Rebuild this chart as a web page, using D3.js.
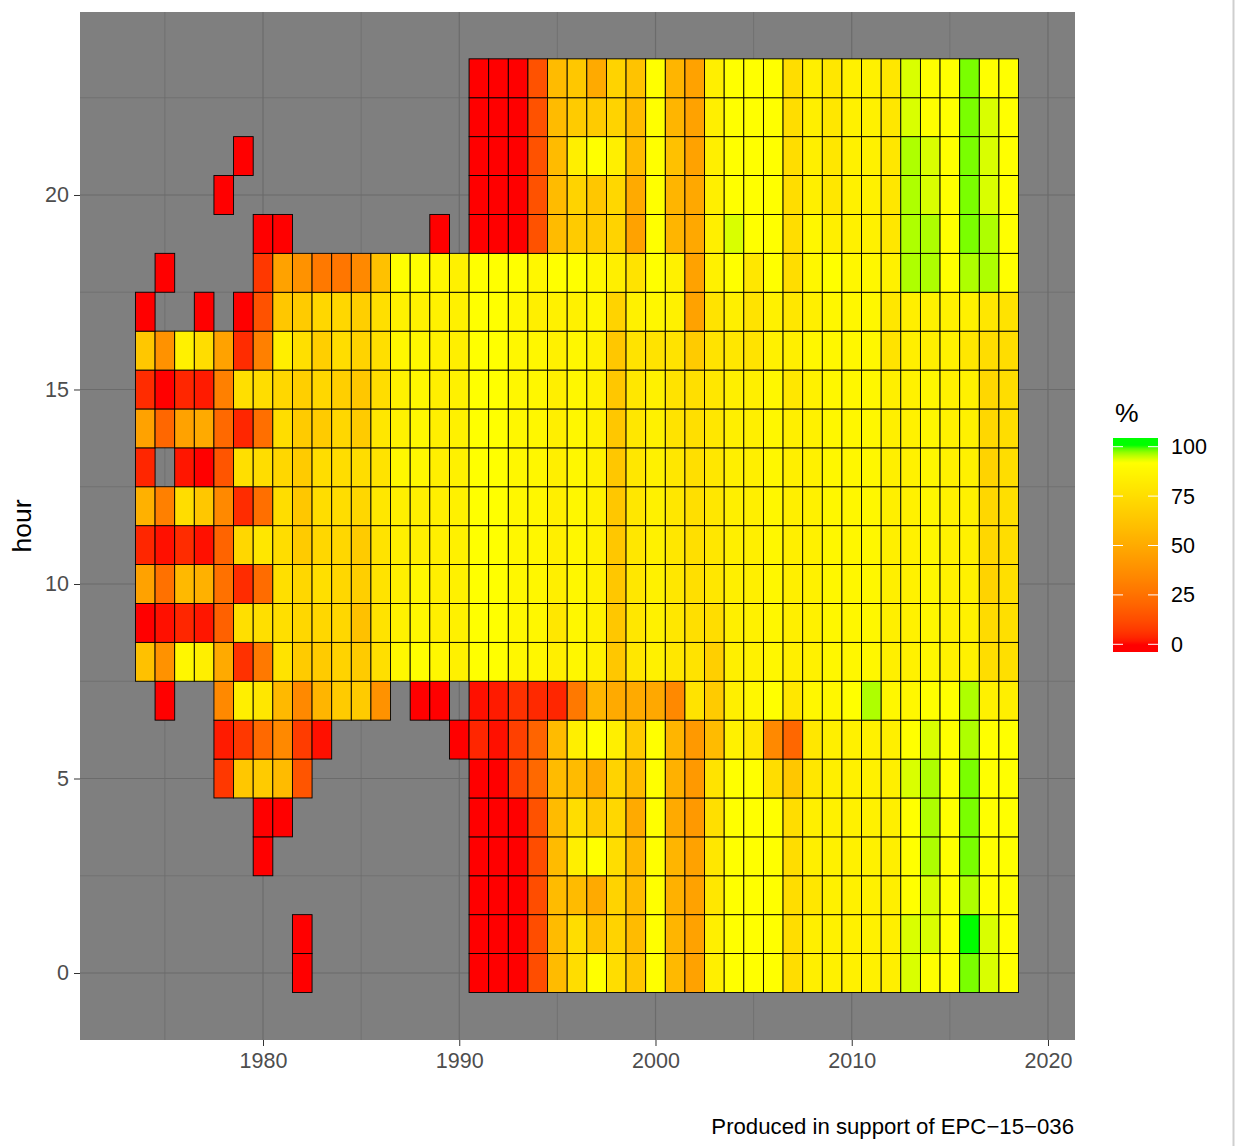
<!DOCTYPE html>
<html>
<head>
<meta charset="utf-8">
<script src="https://cdn.jsdelivr.net/npm/d3@7"></script>
<style>
  body { margin: 0; background: #fff; }
  svg text { font-family: "Liberation Sans", Arial, sans-serif; }
</style>
</head>
<body>
<div id="chart"></div>
<script>
const _ = null;

// years on the x axis (one column per year)
const years = [1974, 1975, 1976, 1977, 1978, 1979, 1980, 1981, 1982, 1983, 1984, 1985, 1986, 1987, 1988, 1989, 1990,
  1991, 1992, 1993, 1994, 1995, 1996, 1997, 1998, 1999, 2000, 2001, 2002, 2003, 2004, 2005, 2006, 2007, 2008,
  2009, 2010, 2011, 2012, 2013, 2014, 2015, 2016, 2017, 2018];

// percent per hour, one value per year above (null = no data)
//          1974 ............................................ 1990 | 1991 ..................................................................................... 2018
const h00 = [_,_,_,_,_,_,_,_,0,_,_,_,_,_,_,_,_, 0,0,0,12.5,58,75,92,75,64,92,57,46,84,92,92,92,75,84,85,85,85,84,94,92,92,98,94,92];
const h01 = [_,_,_,_,_,_,_,_,0,_,_,_,_,_,_,_,_, 0,0,0,12.5,58,75,62,70,58,92,55,46,84,92,92,92,75,84,85,85,85,84,94,94,92,100,94,92];
const h02 = [_,_,_,_,_,_,_,_,_,_,_,_,_,_,_,_,_, 0,0,0,12.5,58,58,50,70,58,92,53,46,80,92,92,92,75,80,85,85,85,84,92,94,92,96,92,92];
const h03 = [_,_,_,_,_,_,0,_,_,_,_,_,_,_,_,_,_, 0,0,0,12.5,58,84,92,75,57,92,55,46,80,92,92,92,75,84,85,85,85,84,92,96,92,98,92,92];
const h04 = [_,_,_,_,_,_,0,0,_,_,_,_,_,_,_,_,_, 0,0,0,14,58,75,66,72,50,92,50,42,76,92,92,92,75,84,85,85,85,84,92,96,92,98,92,92];
const h05 = [_,_,_,_,7,64,66,58,15,_,_,_,_,_,_,_,_, 0,0,10,22,58,58,50,70,58,92,53,42,78,92,92,75,64,80,84,85,85,84,94,96,92,98,92,92];
const h06 = [_,_,_,_,2,7,22,35,8,1,_,_,_,_,_,_,0, 3.5,1,9,20,58,84,92,84,66,92,55,42,58,85,80,35,21,80,84,85,85,84,92,94,92,96,92,92];
const h07 = [_,0,_,_,35,84,80,57,35,55,66,66,39,_,0,0,_, 1,2,5.5,4,3.5,28,55,50,50,49,35,78,66,84,88,92,80,88,88,92,96,88,88,92,92,96,85,84];
const h08 = [61,39,88,84,50,5.5,28,78,66,66,70,66,76,88,92,88,85, 92,92,88,88,84,88,85,64,80,85,80,78,68,84,85,88,84,85,88,88,88,84,85,88,85,85,75,76];
const h09 = [0,1,3.5,1.5,19,76,76,76,72,72,72,61,78,85,88,84,85, 92,92,88,88,80,88,85,64,80,85,80,76,75,84,85,88,84,85,88,88,88,84,85,88,85,85,74,76];
const h10 = [46,25,57,53,25,4.5,23,76,72,76,72,68,78,84,88,84,85, 92,92,88,88,84,88,85,64,80,85,80,76,80,84,84,88,84,85,88,88,88,84,85,88,85,85,70,76];
const h11 = [3.5,1,4.5,1,20,72,80,75,66,72,72,66,78,84,84,84,85, 92,92,88,88,84,88,85,64,80,85,80,76,80,84,84,88,84,85,88,88,88,84,85,88,85,85,72,75];
const h12 = [53,31,75,64,35,4.5,24,75,64,75,75,72,80,84,84,84,85, 92,92,88,88,84,88,85,64,80,85,80,76,80,84,84,88,84,85,88,88,88,84,85,88,85,85,72,76];
const h13 = [3.5,_,1.5,0,15,76,75,72,66,75,75,75,78,88,88,84,85, 92,92,88,88,84,88,85,64,80,85,80,76,80,84,84,88,84,85,88,88,88,84,85,88,85,85,70,75];
const h14 = [46,21,46,50,22,3.5,24,75,66,66,72,66,80,85,88,84,85, 92,92,88,88,84,88,85,64,80,85,78,76,80,84,84,88,84,85,88,88,88,84,85,88,85,85,72,75];
const h15 = [4.5,0,3.5,2,31,76,75,72,68,72,68,64,75,85,88,84,85, 92,92,88,88,84,88,85,64,80,85,78,76,80,84,84,88,80,85,88,88,88,84,85,88,85,85,72,75];
const h16 = [64,39,85,75,46,4.5,31,84,76,68,75,70,76,88,88,85,84, 92,92,88,88,85,88,85,64,78,78,78,66,78,80,78,85,84,88,88,88,88,78,84,84,85,80,75,75];
const h17 = [0,_,_,0,_,0,14,64,66,72,72,68,76,85,85,85,85, 92,92,88,84,85,85,88,70,85,88,85,46,78,84,78,85,80,84,88,88,88,80,84,85,85,85,80,78];
const h18 = [_,0,_,_,_,_,7,46,39,28,27,35,61,92,92,88,85, 92,92,92,88,92,92,88,84,78,92,85,46,85,92,80,92,75,88,92,88,88,85,96,96,92,96,96,92];
const h19 = [_,_,_,_,_,_,0,0,_,_,_,_,_,_,_,0,_, 0,0,0,14,58,66,66,70,46,92,55,49,84,94,92,92,75,88,84,85,85,80,96,96,92,98,96,92];
const h20 = [_,_,_,_,0,_,_,_,_,_,_,_,_,_,_,_,_, 0,0,0,14,58,70,64,72,50,92,55,49,84,92,92,92,75,84,80,85,85,80,96,94,92,98,94,92];
const h21 = [_,_,_,_,_,0,_,_,_,_,_,_,_,_,_,_,_, 0,0,0,14,58,84,92,84,58,92,61,46,84,92,92,92,75,84,80,85,85,80,96,94,92,98,94,92];
const h22 = [_,_,_,_,_,_,_,_,_,_,_,_,_,_,_,_,_, 0,0,0,14,58,66,66,70,58,92,55,46,84,92,92,92,75,84,80,85,85,80,94,92,92,98,94,92];
const h23 = [_,_,_,_,_,_,_,_,_,_,_,_,_,_,_,_,_, 0,0,0,14,58,64,50,70,62,92,55,46,84,92,92,92,75,84,80,85,85,80,94,92,92,98,92,92];

const hourRows = [h00, h01, h02, h03, h04, h05, h06, h07, h08, h09, h10, h11,
                  h12, h13, h14, h15, h16, h17, h18, h19, h20, h21, h22, h23];

const xTicks = [1980, 1990, 2000, 2010, 2020];
const xMinor = [1975, 1985, 1995, 2005, 2015];
const yTicks = [0, 5, 10, 15, 20];
const yMinor = [2.5, 7.5, 12.5, 17.5, 22.5];
const legendTicks = [0, 25, 50, 75, 100];

// flatten into tiles
const tiles = [];
hourRows.forEach(function (row, hour) {
  row.forEach(function (v, i) {
    if (v !== null) tiles.push({year: years[i], hour: hour, value: v});
  });
});

const width = 1236, height = 1146;
const panel = {left: 80, top: 12, right: 1075, bottom: 1040};

const svg = d3.select("#chart").append("svg")
  .attr("width", width)
  .attr("height", height);

const x = d3.scaleLinear().domain([1970.675, 2021.376]).range([panel.left, panel.right]);
const y = d3.scaleLinear().domain([-1.722, 24.704]).range([panel.bottom, panel.top]);

const color = d3.scaleLinear()
  .domain([0, 92, 100])
  .range(["#ff0000", "#ffff00", "#00ff00"])
  .interpolate(d3.interpolateLab)
  .clamp(true);

// panel background
svg.append("rect")
  .attr("x", panel.left).attr("y", panel.top)
  .attr("width", panel.right - panel.left)
  .attr("height", panel.bottom - panel.top)
  .attr("fill", "#7f7f7f");

// grid
const grid = svg.append("g");
grid.selectAll(".vminor").data(xMinor).join("line")
  .attr("x1", d => x(d)).attr("x2", d => x(d))
  .attr("y1", panel.top).attr("y2", panel.bottom)
  .attr("stroke", "#6b6b6b").attr("stroke-width", 0.7);
grid.selectAll(".hminor").data(yMinor).join("line")
  .attr("y1", d => y(d)).attr("y2", d => y(d))
  .attr("x1", panel.left).attr("x2", panel.right)
  .attr("stroke", "#6b6b6b").attr("stroke-width", 0.7);
grid.selectAll(".vmajor").data(xTicks).join("line")
  .attr("x1", d => x(d)).attr("x2", d => x(d))
  .attr("y1", panel.top).attr("y2", panel.bottom)
  .attr("stroke", "#6b6b6b").attr("stroke-width", 1.2);
grid.selectAll(".hmajor").data(yTicks).join("line")
  .attr("y1", d => y(d)).attr("y2", d => y(d))
  .attr("x1", panel.left).attr("x2", panel.right)
  .attr("stroke", "#6b6b6b").attr("stroke-width", 1.2);

// tiles
svg.append("g")
  .selectAll("rect")
  .data(tiles)
  .join("rect")
    .attr("x", d => x(d.year - 0.5))
    .attr("width", d => x(d.year + 0.5) - x(d.year - 0.5))
    .attr("y", d => y(d.hour + 0.5))
    .attr("height", d => y(d.hour - 0.5) - y(d.hour + 0.5))
    .attr("fill", d => color(d.value))
    .attr("stroke", "#000")
    .attr("stroke-width", 0.9);

// axes
const xAxis = svg.append("g")
  .attr("transform", "translate(0," + panel.bottom + ")")
  .call(d3.axisBottom(x).tickValues(xTicks).tickFormat(d3.format("d")).tickSize(6).tickPadding(7));
const yAxis = svg.append("g")
  .attr("transform", "translate(" + panel.left + ",0)")
  .call(d3.axisLeft(y).tickValues(yTicks).tickSize(6).tickPadding(5));

[xAxis, yAxis].forEach(function (g) {
  g.select(".domain").remove();
  g.selectAll(".tick line").attr("stroke", "#333").attr("stroke-width", 1);
  g.selectAll(".tick text")
    .attr("fill", "#4d4d4d")
    .style("font-size", "21.5px")
    .style("font-family", "'Liberation Sans', Arial, sans-serif");
});

// y title
svg.append("text")
  .attr("transform", "translate(31," + ((panel.top + panel.bottom) / 2) + ") rotate(-90)")
  .attr("text-anchor", "middle")
  .style("font-size", "26.5px")
  .attr("fill", "#000")
  .text("hour");

// caption
svg.append("text")
  .attr("x", 1074).attr("y", 1134)
  .attr("text-anchor", "end")
  .style("font-size", "22.2px")
  .attr("fill", "#000")
  .text("Produced in support of EPC\u221215\u2212036");

// legend
const legendY = d3.scaleLinear().domain([0, 100]).range([644.3, 446.7]);
const barTop = 438, barBottom = 652, barLeft = 1113, barW = 45;

const defs = svg.append("defs");
const grad = defs.append("linearGradient")
  .attr("id", "legend-grad")
  .attr("gradientUnits", "userSpaceOnUse")
  .attr("x1", 0).attr("x2", 0)
  .attr("y1", barBottom).attr("y2", barTop);
const stopVals = d3.range(0, 61).map(i => legendY.invert(barBottom + (barTop - barBottom) * i / 60));
grad.selectAll("stop").data(stopVals).join("stop")
  .attr("offset", (d, i) => i / 60)
  .attr("stop-color", d => color(d));

svg.append("rect")
  .attr("x", barLeft).attr("y", barTop)
  .attr("width", barW).attr("height", barBottom - barTop)
  .attr("fill", "url(#legend-grad)");

const lt = svg.append("g");
lt.selectAll(".lt-l").data(legendTicks).join("line")
  .attr("x1", barLeft).attr("x2", barLeft + 10)
  .attr("y1", d => legendY(d)).attr("y2", d => legendY(d))
  .attr("stroke", "#fff").attr("stroke-width", 1);
lt.selectAll(".lt-r").data(legendTicks).join("line")
  .attr("x1", barLeft + barW - 10).attr("x2", barLeft + barW)
  .attr("y1", d => legendY(d)).attr("y2", d => legendY(d))
  .attr("stroke", "#fff").attr("stroke-width", 1);
lt.selectAll("text").data(legendTicks).join("text")
  .attr("x", 1171)
  .attr("y", d => legendY(d))
  .attr("dy", "0.35em")
  .style("font-size", "21.5px")
  .attr("fill", "#000")
  .text(d => d);

svg.append("text")
  .attr("x", 1115).attr("y", 422)
  .style("font-size", "26.5px")
  .attr("fill", "#000")
  .text("%");

// right frame edge
svg.append("line")
  .attr("x1", 1233.5).attr("x2", 1233.5)
  .attr("y1", 0).attr("y2", height)
  .attr("stroke", "#cfcfcf").attr("stroke-width", 2);
</script>
</body>
</html>
